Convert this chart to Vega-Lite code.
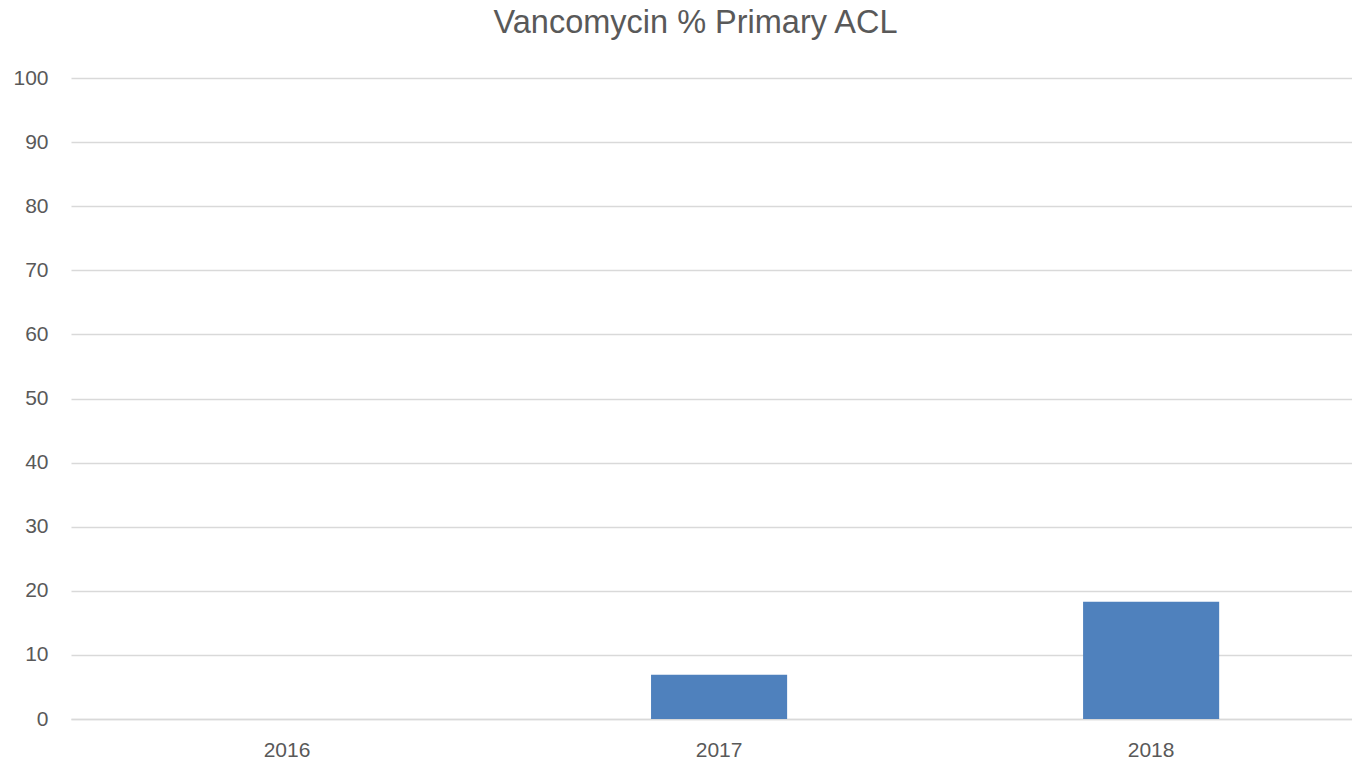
{
  "$schema": "https://vega.github.io/schema/vega-lite/v6.json",
  "autosize": "none",
  "width": 1281,
  "height": 641,
  "padding": {"left": 71, "top": 78, "right": 0, "bottom": 42},
  "background": "white",
  "title": {
    "text": "Vancomycin % Primary ACL",
    "anchor": "middle",
    "frame": "group",
    "dx": -16,
    "offset": 28,
    "font": "Liberation Sans",
    "fontSize": 32.5,
    "fontWeight": "normal",
    "color": "#595959"
  },
  "data": {
    "values": [
      {"year": "2016", "pct": 0},
      {"year": "2017", "pct": 6.9},
      {"year": "2018", "pct": 18.3}
    ]
  },
  "mark": {"type": "bar", "color": "#4f81bd"},
  "encoding": {
    "x": {
      "field": "year",
      "type": "ordinal",
      "scale": {"paddingInner": 0.685, "paddingOuter": 0.325, "align": 0.527},
      "axis": {
        "title": null,
        "labelAngle": 0,
        "labelFont": "Liberation Sans",
        "labelFontSize": 21,
        "labelColor": "#595959",
        "labelPadding": 20,
        "ticks": false,
        "domainColor": "#d9d9d9",
        "domainWidth": 1.5,
        "grid": false
      }
    },
    "y": {
      "field": "pct",
      "type": "quantitative",
      "scale": {"domain": [0, 100], "nice": false},
      "axis": {
        "title": null,
        "values": [0, 10, 20, 30, 40, 50, 60, 70, 80, 90, 100],
        "labelFont": "Liberation Sans",
        "labelFontSize": 21,
        "labelColor": "#595959",
        "labelPadding": 23,
        "ticks": false,
        "domain": false,
        "gridColor": "#d9d9d9",
        "gridWidth": 1.5
      }
    }
  },
  "config": {"view": {"stroke": null}}
}
